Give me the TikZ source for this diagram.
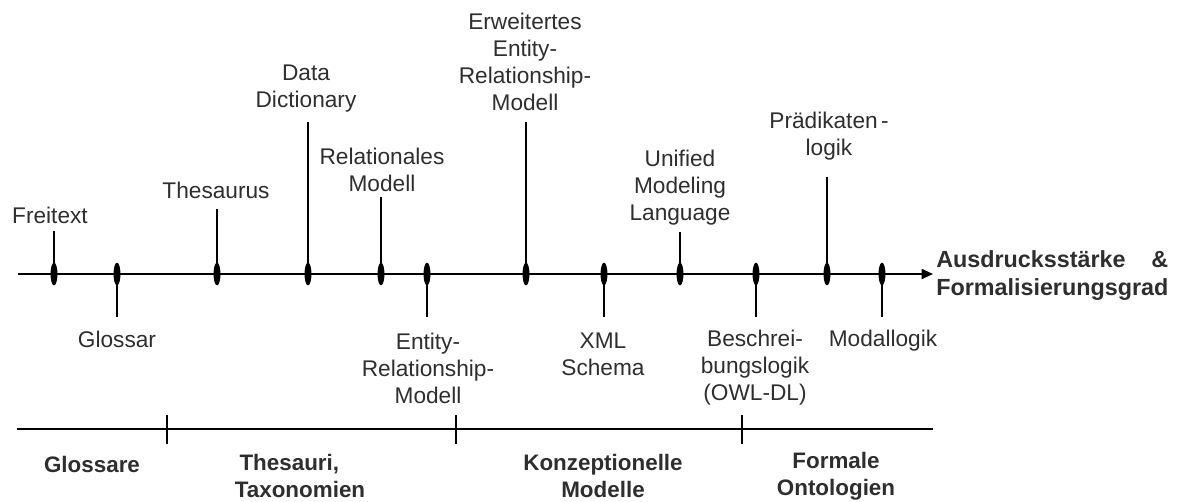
\documentclass[tikz,border=0pt]{standalone}
\usepackage{fontspec}
\setmainfont{Liberation Sans}
\usetikzlibrary{arrows.meta,shapes.geometric}
\newlength\gradwidth
\begin{document}
\settowidth\gradwidth{\bfseries\fontsize{17.5}{21}\selectfont Formalisierungsgrad}
\begin{tikzpicture}[x=0.75pt,y=-0.75pt,
  axisline/.style={line width=1.3pt},
  stem/.style={line width=1.4pt},
  marker/.style={ellipse,fill=black,draw=none,minimum width=5.2pt,minimum height=17pt,inner sep=0pt},
  lbl/.style={font=\fontsize{17}{20.25}\selectfont,text=black!82,align=center,inner sep=0pt},
  cat/.style={font=\bfseries\fontsize{16.8}{20.25}\selectfont,text=black!82,align=center,inner sep=0pt}]
\useasboundingbox (0,0) rectangle (1185,501);

% main axis
\coordinate (axL) at (18,274);
\coordinate (axR) at (933,274);
\draw[axisline,-{Triangle[length=8.5pt,width=7.5pt]}] (axL) -- (axR);
\node[font=\bfseries\fontsize{17.5}{21}\selectfont,text=black!82,align=left,inner sep=0pt,anchor=west]
  (axlabel) at (936,276) {\hbox to \gradwidth{Ausdrucksstärke\hfill\&}\\Formalisierungsgrad};

% stems with their end points, then the markers on the axis
\foreach \n/\x/\e in {frei/54/231, thes/217/209, dd/308/122, rel/381/197, eerm/526/122,
                      uml/680/232, praed/827/177,
                      gloss/117/317, erm/427/317, xml/604/317, besch/756/317, modal/882/317}{
  \coordinate (s\n) at (\x,\e);
  \node[marker] (m\n) at (\x,274) {};
  \draw[stem] (m\n.center) -- (s\n);
}

% labels above the axis
\node[lbl] (lfrei)  at (50,215)   {Freitext};
\node[lbl] (lthes)  at (216,190)  {Thesaurus};
\node[lbl] (ldd)    at (306,88.5) {Data\\Dictionary};
\node[lbl] (lrel)   at (382,169.5){Relationales\\Modell};
\node[lbl] (leerm)  at (525,62)   {Erweitertes\\Entity-\\Relationship-\\Modell};
\node[lbl] (luml)   at (680,188)  {Unified\\Modeling\\Language};
\node[lbl] (lpraed) at (829,136)  {Prädikaten\kern2.5pt-\\logik};

% labels below the axis
\node[lbl] (lgloss) at (117,339)   {Glossar};
\node[lbl] (lerm)   at (428,368.5) {Entity-\\Relationship-\\Modell};
\node[lbl] (lxml)   at (603,354.5) {XML\\Schema};
\node[lbl] (lbesch) at (755,367.5) {Beschrei-\\bungslogik\\(OWL-DL)};
\node[lbl] (lmodal) at (883,341)   {Modallogik};

% category line with separators
\coordinate (bL) at (17,429);
\coordinate (bR) at (933,429);
\draw[axisline] (bL) -- (bR);
\foreach \n/\x in {a/167, b/456, c/742}{
  \coordinate (t\n1) at (\x,415);
  \coordinate (t\n2) at (\x,444);
  \draw[axisline] (t\n1) -- (t\n2);
}

% category names
\node[cat] (cgloss) at (92,464)  {Glossare};
\node[cat] (cthes)  at (300,476) {Thesauri,\hspace*{16pt}\\Taxonomien};
\node[cat] (ckonz)  at (603,476) {Konzeptionelle\\Modelle};
\node[cat] (cform)  at (836,476) {Formale\\Ontologien};
\end{tikzpicture}
\end{document}
